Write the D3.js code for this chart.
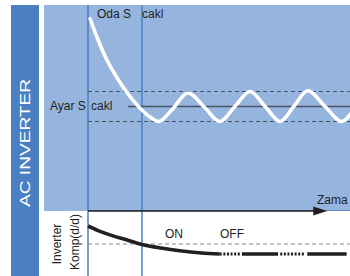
<!DOCTYPE html>
<html>
<head>
<meta charset="utf-8">
<script src="https://cdn.jsdelivr.net/npm/d3@7"></script>
<style>
    body { margin: 0; background: #fff; }
    svg { display: block; font-family: "Liberation Sans", Arial, sans-serif; }
</style>
</head>
<body>
<div id="chart"></div>
<script>
// Room temperature curve (time, °C)
const tempTime  = [0.4, 1.85, 3.5, 5.4, 7.4, 9.6, 11.5, 13.15, 15.6, 18.5, 21.7, 24.4, 27.2, 30.0, 32.8, 35.6, 38.1, 40.7, 43.9, 47.0, 49.6];
const tempValue = [29.85, 28.45, 27.1, 25.9, 24.85, 23.9, 23.3, 23.0, 23.8, 24.9, 23.9, 23.0, 24.0, 25.0, 24.0, 23.0, 24.0, 25.05, 24.0, 23.0, 24.0];

const setPoint = 24;
const band = [23, 25];
const markerTimes = [0, 10];
const axisEnd = 44.3;

// Inverter compressor power (time, %)
const powerTime  = [0, 2, 4.5, 7, 10, 13.5, 17, 21, 24.4];
const powerValue = [95, 83, 71, 61, 49, 40, 33, 27.5, 25];
const ratedPower = 50;
const idlePower = 25;
const idleStart = [24.4, 28.5, 35.6, 40.6];
const idleEnd   = [28.1, 35.2, 40.2, 47.9];
const idleKind  = ['dot', 'solid', 'dot', 'solid'];

const W = 350, H = 276;
const bandBlue = '#4a7fc2';
const panelBlue = '#95b5df';
const ink = '#231f20';

const svg = d3.select('#chart').append('svg')
    .attr('width', W)
    .attr('height', H);

const x = d3.scaleLinear().domain([0, 50]).range([88, 358]);
const yT = d3.scaleLinear().domain(band).range([121.5, 91.5]);
const yP = d3.scaleLinear().domain([0, 100]).range([264, 224]);

// side band + panel
svg.append('rect').attr('x', 11).attr('y', 5).attr('width', 28).attr('height', H - 5).attr('fill', bandBlue);
svg.append('rect').attr('x', 44).attr('y', 5).attr('width', W - 44).attr('height', 206).attr('fill', panelBlue);

svg.append('text')
    .attr('transform', 'translate(30,143) rotate(-90)')
    .attr('text-anchor', 'middle')
    .attr('fill', '#fff')
    .attr('font-size', 15)
    .attr('textLength', 128)
    .attr('lengthAdjust', 'spacingAndGlyphs')
    .text('AC INVERTER');

// panel bottom edge
svg.append('line')
    .attr('x1', x(0)).attr('x2', W)
    .attr('y1', 210.5).attr('y2', 210.5)
    .attr('stroke', '#5b8ccc').attr('stroke-width', 1);

// marker lines
svg.append('g').selectAll('line')
    .data(markerTimes)
    .join('line')
    .attr('x1', d => x(d)).attr('x2', d => x(d))
    .attr('y1', 5).attr('y2', H)
    .attr('stroke', '#4a7fc4')
    .attr('stroke-width', 1.5);

// band dashed lines
svg.append('g').selectAll('line')
    .data(band)
    .join('line')
    .attr('x1', x(0)).attr('x2', W)
    .attr('y1', d => yT(d)).attr('y2', d => yT(d))
    .attr('stroke', '#4b5466')
    .attr('stroke-width', 1.2)
    .attr('stroke-dasharray', '4,3');

// set point line
svg.append('line')
    .attr('x1', 128).attr('x2', W)
    .attr('y1', yT(setPoint)).attr('y2', yT(setPoint))
    .attr('stroke', '#4b5262')
    .attr('stroke-width', 1.5);

// room temperature
const tempLine = d3.line()
    .x(d => x(d[0]))
    .y(d => yT(d[1]))
    .curve(d3.curveCatmullRom.alpha(0.5));

svg.append('path')
    .datum(d3.zip(tempTime, tempValue))
    .attr('d', tempLine)
    .attr('fill', 'none')
    .attr('stroke', '#fff')
    .attr('stroke-width', 3.6)
    .attr('stroke-linecap', 'round');

// time axis arrow
const ay = 211;
svg.append('line')
    .attr('x1', x(0)).attr('x2', x(axisEnd) - 13)
    .attr('y1', ay).attr('y2', ay)
    .attr('stroke', ink).attr('stroke-width', 1.5);
svg.append('path')
    .attr('d', `M${x(axisEnd) - 14},${ay - 4.5}L${x(axisEnd)},${ay}L${x(axisEnd) - 14},${ay + 4.5}Z`)
    .attr('fill', ink);

// bottom: rated power dashed
svg.append('line')
    .attr('x1', x(0)).attr('x2', W)
    .attr('y1', yP(ratedPower)).attr('y2', yP(ratedPower))
    .attr('stroke', '#8a8a8a')
    .attr('stroke-width', 1.2)
    .attr('stroke-dasharray', '4,3');

const powerLine = d3.line()
    .x(d => x(d[0]))
    .y(d => yP(d[1]))
    .curve(d3.curveCatmullRom.alpha(0.5));

svg.append('path')
    .datum(d3.zip(powerTime, powerValue))
    .attr('d', powerLine)
    .attr('fill', 'none')
    .attr('stroke', ink)
    .attr('stroke-width', 3.6);

svg.append('g').selectAll('line')
    .data(d3.zip(idleStart, idleEnd, idleKind))
    .join('line')
    .attr('x1', d => x(d[0])).attr('x2', d => x(d[1]))
    .attr('y1', yP(idlePower)).attr('y2', yP(idlePower))
    .attr('stroke', ink)
    .attr('stroke-width', d => d[2] === 'dot' ? 3 : 3.6)
    .attr('stroke-dasharray', d => d[2] === 'dot' ? '2,1.6' : null);

// labels
const label = (tx, ty, str) => svg.append('text')
    .attr('x', tx).attr('y', ty)
    .attr('fill', ink)
    .attr('font-size', 12)
    .text(str);

label(97, 18, 'Oda S');
label(142, 18, 'cakl');
label(50, 110, 'Ayar S');
label(91, 110, 'cakl');
label(317, 204, 'Zama');
label(165, 238, 'ON');
label(220, 238, 'OFF');

svg.append('text')
    .attr('transform', 'translate(61,244) rotate(-90)')
    .attr('text-anchor', 'middle')
    .attr('fill', ink)
    .attr('font-size', 12)
    .text('Inverter');
svg.append('text')
    .attr('transform', 'translate(79,242) rotate(-90)')
    .attr('text-anchor', 'middle')
    .attr('fill', ink)
    .attr('font-size', 12)
    .text('Komp(d/d)');
</script>
</body>
</html>
